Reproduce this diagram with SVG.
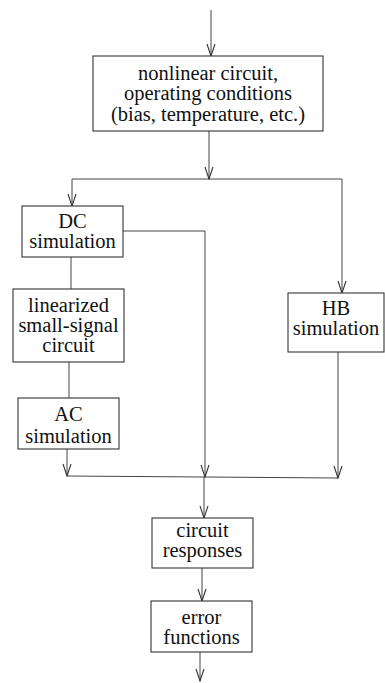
<svg xmlns="http://www.w3.org/2000/svg" width="385" height="683" viewBox="0 0 385 683">
<defs>
<marker id="arr" markerWidth="14" markerHeight="12" refX="13" refY="6" orient="auto" markerUnits="userSpaceOnUse" viewBox="0 0 14 12">
<path d="M1,2 L13,6 L1,10" fill="none" stroke="#333" stroke-width="1.1"/>
</marker>
</defs>
<style>
.box{fill:#fff;stroke:#333;stroke-width:1.1}
.t{font-family:"Liberation Serif","Times New Roman",serif;font-size:20.5px;fill:#111;text-anchor:middle}
.c{fill:none;stroke:#444;stroke-width:1}
</style>
<rect width="385" height="683" fill="#fff"/>
<g id="connectors">
<line class="c" x1="211" y1="10" x2="211" y2="56" marker-end="url(#arr)"/>
<line class="c" x1="209" y1="131" x2="209" y2="179" marker-end="url(#arr)"/>
<polyline class="c" points="72,179 342,179 342,293" marker-end="url(#arr)"/>
<line class="c" x1="72" y1="179" x2="72" y2="206" marker-end="url(#arr)"/>
<polyline class="c" points="123,231 205,231 205,477" marker-end="url(#arr)"/>
<line class="c" x1="71" y1="257" x2="71" y2="289"/>
<line class="c" x1="69" y1="362" x2="69" y2="398"/>
<line class="c" x1="67" y1="449" x2="67" y2="476" marker-end="url(#arr)"/>
<line class="c" x1="67" y1="476" x2="338" y2="478"/>
<line class="c" x1="338" y1="352" x2="338" y2="478" marker-end="url(#arr)"/>
<line class="c" x1="204" y1="477" x2="204" y2="518" marker-end="url(#arr)"/>
<line class="c" x1="202" y1="568" x2="202" y2="601" marker-end="url(#arr)"/>
<line class="c" x1="200" y1="652" x2="200" y2="681" marker-end="url(#arr)"/>
</g>
<g id="n_top">
<rect class="box" x="93" y="56" width="230" height="75"/>
<text class="t" x="208" y="80">nonlinear circuit,</text>
<text class="t" x="208" y="100">operating conditions</text>
<text class="t" x="208" y="121">(bias, temperature, etc.)</text>
</g>
<g id="n_dc">
<rect class="box" x="22" y="206" width="101" height="51"/>
<text class="t" x="72.5" y="228">DC</text>
<text class="t" x="72.5" y="248">simulation</text>
</g>
<g id="n_lin">
<rect class="box" x="13" y="289" width="111" height="73"/>
<text class="t" x="68.5" y="312">linearized</text>
<text class="t" x="68.5" y="332">small-signal</text>
<text class="t" x="68.5" y="352">circuit</text>
</g>
<g id="n_ac">
<rect class="box" x="18" y="398" width="101" height="51"/>
<text class="t" x="68.5" y="421">AC</text>
<text class="t" x="68.5" y="443">simulation</text>
</g>
<g id="n_hb">
<rect class="box" x="288" y="293" width="96" height="59"/>
<text class="t" x="336" y="315">HB</text>
<text class="t" x="336" y="335">simulation</text>
</g>
<g id="n_resp">
<rect class="box" x="152" y="518" width="101" height="50"/>
<text class="t" x="202.5" y="537">circuit</text>
<text class="t" x="202.5" y="557">responses</text>
</g>
<g id="n_err">
<rect class="box" x="151" y="601" width="101" height="51"/>
<text class="t" x="201.5" y="624">error</text>
<text class="t" x="201.5" y="644">functions</text>
</g>
</svg>
